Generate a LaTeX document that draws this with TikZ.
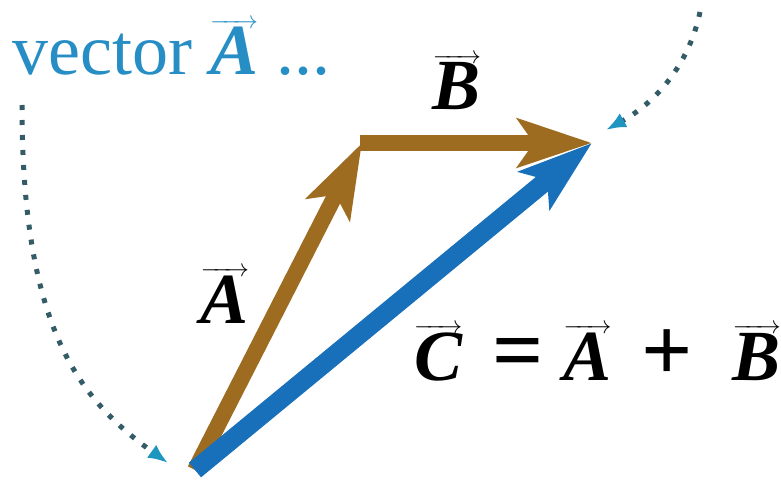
\documentclass[tikz,border=0pt]{standalone}
\usepackage{fontspec}
\setmainfont{Liberation Serif}
\usepackage{xcolor}
\usetikzlibrary{arrows.meta,positioning,calc}

\definecolor{vecbrown}{RGB}{158,108,32}
\definecolor{vecblue}{RGB}{24,112,186}
\definecolor{labelcyan}{RGB}{38,142,196}
\definecolor{dotteal}{RGB}{52,92,104}
\definecolor{tipcyan}{RGB}{30,150,192}

% bold italic letter with a thin arrow on top
\newcommand{\vsym}[1]{$\overrightarrow{\mbox{\bfseries\itshape #1}}$}
\newcommand{\bigop}[1]{{\fontsize{90}{90}\selectfont\bfseries #1}}

\begin{document}
\begin{tikzpicture}[x=1pt,y=-1pt,
    every node/.style={font=\fontsize{72}{80}\selectfont,inner sep=0pt},
    vecarrow/.style={line width=16pt,-{Stealth[length=74pt 0,width=48pt 0,inset=16pt 0]}},
    turnarc/.style={dotteal,line width=5pt,dash pattern=on 5pt off 10pt,-{Latex[color=tipcyan,length=20pt 0,width=16pt 0]}},
    veclabel/.style={anchor=base},
]
\clip (0,0) rectangle (781,484);

\coordinate (O) at (195,470);
\coordinate (P) at (362,143);
\coordinate (Q) at (592,143);

\draw[vecarrow,vecbrown] (O) -- (P);
\draw[vecarrow,vecbrown] ($(P)+(-2,0)$) -- (Q);
\draw[vecarrow,vecblue,line width=19pt] (O) -- (Q);

\node[anchor=base west,labelcyan] (vecA) at (12,75) {vector \vsym{A} ...};
\node[veclabel] (labB) at (457,110) {\vsym{B}};
\node[veclabel] (labA) at (225,323) {\vsym{A}};
\node[anchor=base west] (sumeq) at (414,380)
    {\vsym{C}\hspace{30pt}\bigop{=}\hspace{20pt}\vsym{A}\hspace{30pt}\bigop{+}\hspace{40pt}\vsym{B}};

% dotted turning arcs
\coordinate (s1) at (22,105);
\coordinate (e1) at (168,463);
\coordinate (s2) at (700,12);
\coordinate (e2) at (606,130);
\draw[turnarc] (s1) .. controls (22,330) and (80,400) .. (e1);
\draw[turnarc] (s2) .. controls (690,60) and (660,100) .. (e2);
\end{tikzpicture}
\end{document}
